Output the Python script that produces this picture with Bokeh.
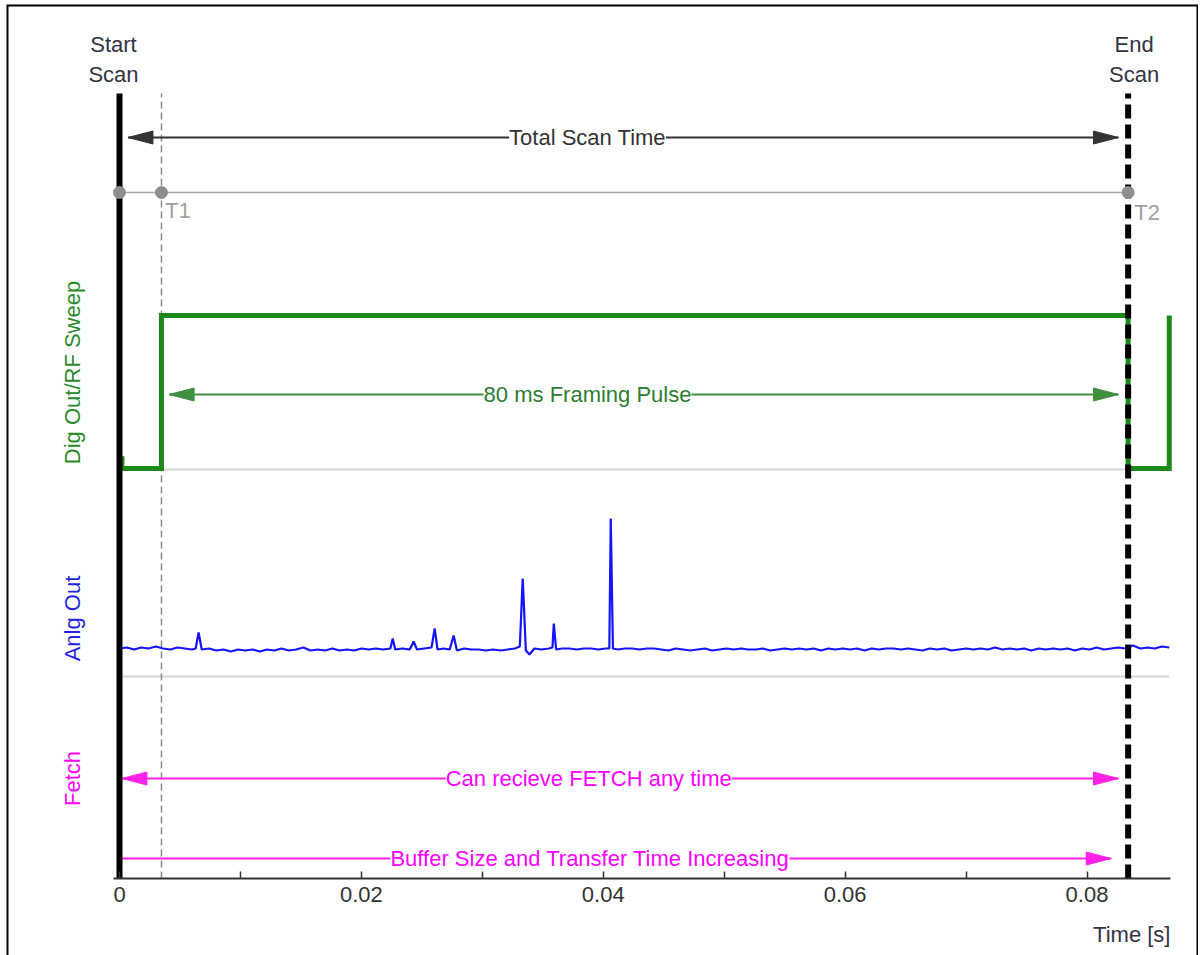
from bokeh.plotting import figure
from bokeh.models import Range1d, FixedTicker, NumeralTickFormatter, Label
from bokeh.embed import file_html
from bokeh.resources import INLINE
import math

# ---------------- data ----------------
T_START = 0.0          # start of scan [s]
T1 = 0.00347           # framing pulse rising edge [s]
T2 = 0.0834            # end of scan / framing pulse falling edge [s]

# digital out / RF sweep (0 = low, 1 = high)
dig_t = [0.0002, 0.0002, T1, T1, T2, T2, 0.0868, 0.0868]
dig_level = [0.08, 0.0, 0.0, 1.0, 1.0, 0.0, 0.0, 1.0]

# analog out [V]
anlg_t = [0.0, 0.0006, 0.0012, 0.0018, 0.0024, 0.0030, 0.0036, 0.0042, 0.0048, 0.0054,
          0.0060, 0.0063, 0.00654, 0.0068, 0.0074, 0.0080, 0.0086, 0.0092, 0.0098, 0.0104,
          0.0110, 0.0116, 0.0122, 0.0128, 0.0134, 0.0140, 0.0146, 0.0152, 0.0158, 0.0164,
          0.0170, 0.0176, 0.0182, 0.0188, 0.0194, 0.0200, 0.0206, 0.0212, 0.0218, 0.0224,
          0.02259, 0.0228, 0.0234, 0.0240, 0.02432, 0.0246, 0.0252, 0.0258, 0.02606, 0.0263,
          0.0268, 0.0273, 0.02763, 0.0279, 0.0285, 0.0291, 0.0297, 0.0303, 0.0309, 0.0315,
          0.0321, 0.0327, 0.0331, 0.03334, 0.0336, 0.0339, 0.0343, 0.0349, 0.0355, 0.0358,
          0.03591, 0.0361, 0.0366, 0.0372, 0.0378, 0.0384, 0.0390, 0.0396, 0.0402, 0.0405,
          0.04062, 0.0408, 0.0412, 0.0418, 0.0424, 0.0430, 0.0436, 0.0442, 0.0448, 0.0454,
          0.0460, 0.0466, 0.0472, 0.0478, 0.0484, 0.0490, 0.0496, 0.0502, 0.0508, 0.0514,
          0.0520, 0.0526, 0.0532, 0.0538, 0.0544, 0.0550, 0.0556, 0.0562, 0.0568, 0.0574,
          0.0580, 0.0586, 0.0592, 0.0598, 0.0604, 0.0610, 0.0616, 0.0622, 0.0628, 0.0634,
          0.0640, 0.0646, 0.0652, 0.0658, 0.0664, 0.0670, 0.0676, 0.0682, 0.0688, 0.0694,
          0.0700, 0.0706, 0.0712, 0.0718, 0.0724, 0.0730, 0.0736, 0.0742, 0.0748, 0.0754,
          0.0760, 0.0766, 0.0772, 0.0778, 0.0784, 0.0790, 0.0796, 0.0802, 0.0808, 0.0814,
          0.0820, 0.0826, 0.0832, 0.0838, 0.0844, 0.0850, 0.0856, 0.0862, 0.0868]
anlg_v = [0.28, 0.29, 0.27, 0.29, 0.28, 0.30, 0.28, 0.27, 0.29, 0.28,
          0.27, 0.28, 0.44, 0.27, 0.28, 0.26, 0.27, 0.25, 0.27, 0.26,
          0.27, 0.25, 0.27, 0.26, 0.28, 0.26, 0.27, 0.29, 0.26, 0.27,
          0.26, 0.28, 0.26, 0.27, 0.26, 0.28, 0.27, 0.28, 0.27, 0.28,
          0.38, 0.27, 0.28, 0.27, 0.35, 0.27, 0.28, 0.29, 0.48, 0.27,
          0.28, 0.27, 0.41, 0.26, 0.28, 0.27, 0.27, 0.26, 0.27, 0.26,
          0.27, 0.28, 0.30, 0.98, 0.26, 0.22, 0.28, 0.27, 0.28, 0.29,
          0.53, 0.27, 0.28, 0.28, 0.27, 0.28, 0.28, 0.27, 0.28, 0.28,
          1.58, 0.28, 0.27, 0.28, 0.28, 0.27, 0.28, 0.28, 0.27, 0.26,
          0.28, 0.27, 0.26, 0.27, 0.28, 0.26, 0.27, 0.28, 0.27, 0.28,
          0.27, 0.27, 0.28, 0.26, 0.27, 0.28, 0.27, 0.28, 0.27, 0.28,
          0.26, 0.28, 0.27, 0.28, 0.27, 0.28, 0.26, 0.28, 0.27, 0.28,
          0.28, 0.27, 0.28, 0.27, 0.26, 0.28, 0.27, 0.28, 0.26, 0.27,
          0.28, 0.27, 0.28, 0.27, 0.29, 0.27, 0.28, 0.27, 0.28, 0.26,
          0.28, 0.27, 0.28, 0.27, 0.28, 0.26, 0.28, 0.27, 0.29, 0.27,
          0.28, 0.29, 0.28, 0.31, 0.28, 0.29, 0.28, 0.30, 0.29]

# annotation arrows: (start time, end time)
total_scan = (0.0007, 0.0826)
framing_pulse = (0.0041, 0.0826)
fetch_any = (0.0002, 0.0826)
buffer_incr = (0.0002, 0.0820)

x_ticks = [0.0, 0.02, 0.04, 0.06, 0.08]
x_minor = [0.01, 0.03, 0.05, 0.07]
x_axis_span = (-0.0005, 0.0869)

# ---------------- layout (frame pixels, measured from the bottom) ----------------
W, H = 1198, 955
LEFT, TOP = 6, 4
PX_PER_S = 12094.0
X0 = -113 / PX_PER_S
X1 = X0 + (W - LEFT) / PX_PER_S
YTOP = H - TOP
Y_AXIS = 77
Y_SCAN_TOP = 862
Y_TOTAL = 818
Y_TLINE = 763
DIG_BASE, DIG_AMP = 487, 153
Y_FRAME_ARROW = 561
ANLG_ZERO, ANLG_SCALE = 279, 100
Y_FETCH1 = 177
Y_FETCH2 = 97

FONT = "Liberation Sans"
FS = "22px"

p = figure(width=W, height=H, output_backend="svg", toolbar_location=None,
           x_range=Range1d(X0, X1), y_range=Range1d(0, YTOP),
           y_axis_location=None, min_border_left=LEFT, min_border_right=0,
           min_border_top=TOP, min_border_bottom=0)
p.outline_line_color = None
p.xgrid.visible = False
p.ygrid.visible = False
p.background_fill_color = "white"
p.border_fill_color = "white"

# picture border (left, top, right)
p.line([X0, X0, X1, X1], [0, YTOP, YTOP, 0], line_color="black", line_width=4)

ax = p.xaxis[0]
ax.fixed_location = Y_AXIS
ax.bounds = x_axis_span
ax.ticker = FixedTicker(ticks=x_ticks, minor_ticks=x_minor)
ax.formatter = NumeralTickFormatter(format="0.[00]")
ax.axis_line_color = "#333333"
ax.axis_line_width = 2
ax.major_tick_in = 7
ax.major_tick_out = 0
ax.minor_tick_in = 7
ax.minor_tick_out = 0
ax.major_tick_line_color = "#333333"
ax.minor_tick_line_color = "#333333"
ax.major_tick_line_width = 1.5
ax.minor_tick_line_width = 1.5
ax.major_label_text_font = FONT
ax.major_label_text_font_size = FS
ax.major_label_text_color = "#333333"
ax.major_label_standoff = 8

HEAD_L = 25 / PX_PER_S
HEAD_W = 6.5


def arrow(t0, t1, y, color, lw, left=True, right=True):
    p.line([t0, t1], [y, y], line_color=color, line_width=lw)
    xs, ys = [], []
    if left:
        xs.append([t0, t0 + HEAD_L, t0 + HEAD_L])
        ys.append([y, y + HEAD_W, y - HEAD_W])
    if right:
        xs.append([t1, t1 - HEAD_L, t1 - HEAD_L])
        ys.append([y, y + HEAD_W, y - HEAD_W])
    p.patches(xs, ys, fill_color=color, line_color=color)


def label(x, y, text, color, align="center", angle=0.0, bg=None):
    lab = Label(x=x, y=y, text=text, text_color=color, text_font=FONT, text_font_size=FS,
                text_align=align, text_baseline="middle", angle=angle)
    if bg:
        lab.background_fill_color = bg
    p.add_layout(lab)


GREEN = "#1b8a1b"
BLUE = "#1414ff"
MAG = "#ff22e6"

# light gray baselines
p.line([T1, T2], [DIG_BASE - 1, DIG_BASE - 1], line_color="#d6d6d6", line_width=2)
p.line([anlg_t[0], anlg_t[-1]], [ANLG_ZERO, ANLG_ZERO], line_color="#d6d6d6", line_width=2)

# T line and T1 marker
p.line([T_START, T2], [Y_TLINE, Y_TLINE], line_color="#a8a8a8", line_width=1.5)
p.line([T1, T1], [Y_AXIS, Y_SCAN_TOP], line_color="#8a8a8a", line_width=1.5, line_dash="7 4")

# arrows
arrow(*total_scan, Y_TOTAL, "#333333", 2)
arrow(*framing_pulse, Y_FRAME_ARROW, "#3f8f3f", 2)
arrow(*fetch_any, Y_FETCH1, MAG, 2)
arrow(*buffer_incr, Y_FETCH2, MAG, 2, left=False)

# signals
p.line(dig_t, [DIG_BASE + DIG_AMP * v for v in dig_level], line_color=GREEN, line_width=5,
       line_join="miter")
p.line(anlg_t, [ANLG_ZERO + ANLG_SCALE * v for v in anlg_v], line_color=BLUE, line_width=2.2)

# scan lines
p.line([T_START, T_START], [Y_AXIS, Y_SCAN_TOP], line_color="black", line_width=6)
p.line([T2, T2], [Y_AXIS, Y_SCAN_TOP], line_color="black", line_width=6, line_dash="14 6")

# markers
p.scatter([T_START, T1, T2], [Y_TLINE] * 3, size=12, fill_color="#8e8e8e", line_color="#8e8e8e")

# texts
label(-0.0005, 911, "Start", "#333344")
label(-0.0005, 881, "Scan", "#333344")
label(0.0839, 911, "End", "#333344")
label(0.0839, 881, "Scan", "#333344")
label(0.0387, Y_TOTAL, "Total Scan Time", "#333333", bg="white")
label(0.0387, Y_FRAME_ARROW, "80 ms Framing Pulse", "#2e7d32", bg="white")
label(0.0388, Y_FETCH1, "Can recieve FETCH any time", "#ff00ff", bg="white")
label(0.0389, Y_FETCH2, "Buffer Size and Transfer Time Increasing", "#ff00ff", bg="white")
label(T1 + 0.0003, 745, "T1", "#a0a0a0", align="left")
label(T2 + 0.0005, 743, "T2", "#a0a0a0", align="left")
label(-0.00389, 583, "Dig Out/RF Sweep", "#2a8a2a", angle=math.pi / 2)
label(-0.00389, 337, "Anlg Out", "#2323e0", angle=math.pi / 2)
label(-0.00389, 177, "Fetch", "#ff00ff", angle=math.pi / 2)
label(x_axis_span[1], 21, "Time [s]", "#333344", align="right")

open("out.html", "w").write(file_html(p, INLINE))
